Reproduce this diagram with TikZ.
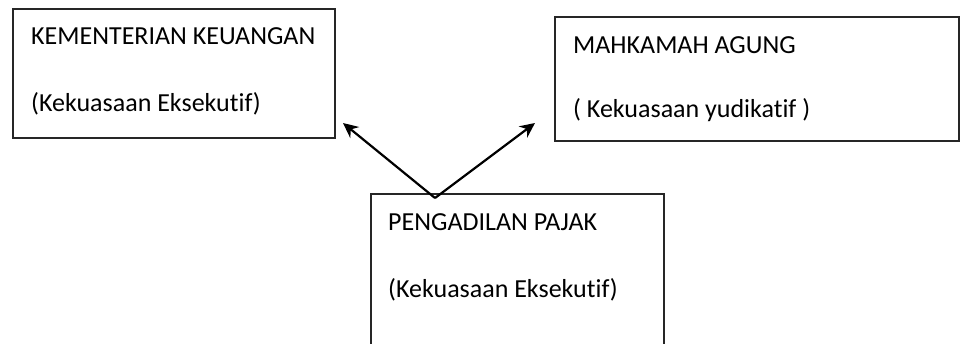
\documentclass[tikz,border=0pt]{standalone}
\usepackage{fontspec}
\setmainfont{Carlito}[Ligatures=NoCommon]
\usetikzlibrary{arrows.meta}
\begin{document}
\begin{tikzpicture}[x=1pt,y=-1pt,
  box/.style={draw=black!85,line width=1.8pt,rectangle,inner sep=0pt,anchor=north west},
  lbl/.style={anchor=base west,inner sep=0pt,font=\fontsize{26}{30}\selectfont,text=black},
  arr/.style={line width=2.2pt,-{Stealth[length=15pt,width=14pt]}}]
\useasboundingbox (0,0) rectangle (960,344);
\clip (0,0) rectangle (960,344);
\node[box,minimum width=322pt,minimum height=129pt] (kk) at (12,8) {};
\node[box,minimum width=404pt,minimum height=124pt] (ma) at (554,16) {};
\node[box,minimum width=293pt,minimum height=170pt] (pp) at (370,193) {};
\node[lbl] (kk1) at (31,45) {KEMENTERIAN KEUANGAN};
\node[lbl] (kk2) at (31,112) {(Kekuasaan Eksekutif)};
\node[lbl] (ma1) at (573,54) {MAHKAMAH AGUNG};
\node[lbl] (ma2) at (573,118) {( Kekuasaan yudikatif )};
\node[lbl] (pp1) at (388,231) {PENGADILAN PAJAK};
\node[lbl] (pp2) at (388,298) {(Kekuasaan Eksekutif)};
\coordinate (src) at (435,198);
\coordinate (tl) at (343,123);
\coordinate (tr) at (535,123);
\draw[arr] (src) -- (tl);
\draw[arr] (src) -- (tr);
\end{tikzpicture}
\end{document}
